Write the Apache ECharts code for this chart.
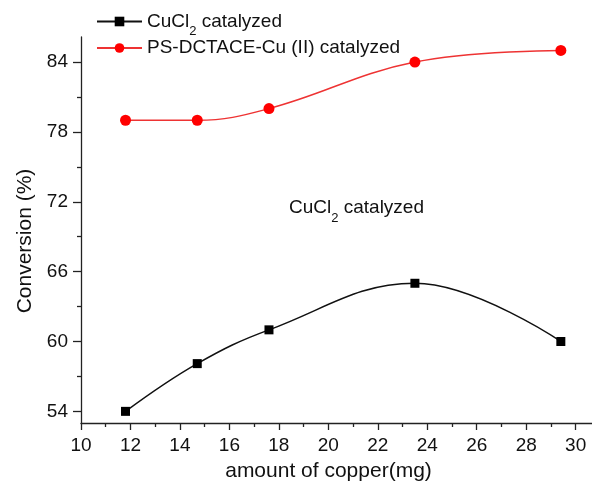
<!DOCTYPE html>
<html>
<head>
<meta charset="utf-8">
<script src="https://cdn.jsdelivr.net/npm/echarts@6/dist/echarts.min.js"></script>
<style>html,body{margin:0;padding:0;background:#fff}#c{width:592px;height:485px}</style>
</head>
<body>
<div id="c"></div>
<script>
var copperX = [11.8, 14.7, 17.6, 23.5, 29.4];
var cucl2Values = [54, 58.1, 61, 65, 60];
var psValues = [79, 79, 80, 84, 85];
var xMajorTicks = [10, 12, 14, 16, 18, 20, 22, 24, 26, 28, 30];
var xMinorTicks = [11, 13, 15, 17, 19, 21, 23, 25, 27, 29];
var yMajorTicks = [54, 60, 66, 72, 78, 84];
var yMinorTicks = [57, 63, 69, 75, 81];
var seriesNames = ['CuCl2 catalyzed', 'PS-DCTACE-Cu (II) catalyzed'];

var FONT = 'Liberation Sans, Arial, sans-serif';
function pairs(xs, ys) { return xs.map(function (x, i) { return [x, ys[i]]; }); }

var chart = echarts.init(document.getElementById('c'), null, { renderer: 'canvas' });
var grid = { left: 81, right: 0, top: 37, bottom: 62, containLabel: false, outerBoundsMode: 'none' };
var xr = { min: 10, max: 30.66 };
var yr = { min: 53, max: 86.15 };

chart.setOption({
  animation: false,
  backgroundColor: '#fff',
  grid: grid,
  legend: {
    left: 96, top: 12, orient: 'vertical', itemGap: 1, padding: 0,
    itemWidth: 45, itemHeight: 12,
    data: seriesNames,
    textStyle: {
      fontFamily: FONT, fontSize: 19, color: '#111',
      rich: {
        n: { fontFamily: FONT, fontSize: 19, color: '#111', lineHeight: 20 },
        s: { fontFamily: FONT, fontSize: 13, color: '#111', lineHeight: 20, verticalAlign: 'bottom', padding: [0, 0, -6, 0] }
      }
    },
    formatter: function (name) {
      if (name === seriesNames[0]) return '{n|CuCl}{s|2}{n| catalyzed}';
      return '{n|' + name + '}';
    }
  },
  xAxis: [{
    type: 'value', min: xr.min, max: xr.max, position: 'bottom',
    name: 'amount of copper(mg)', nameLocation: 'middle', nameGap: 38,
    nameTextStyle: { fontFamily: FONT, fontSize: 21, color: '#111', padding: [0, 16, 0, 0] },
    axisLine: { show: true, lineStyle: { color: '#222', width: 1.3 } },
    axisTick: { show: true, inside: false, length: 7, customValues: xMajorTicks, lineStyle: { color: '#222', width: 1.3 } },
    axisLabel: { show: true, margin: 13, customValues: xMajorTicks, fontFamily: FONT, fontSize: 19, color: '#111' },
    splitLine: { show: false }
  }, {
    type: 'value', min: xr.min, max: xr.max, position: 'bottom',
    axisLine: { show: false },
    axisTick: { show: true, inside: false, length: 4, customValues: xMinorTicks, lineStyle: { color: '#222', width: 1.3 } },
    axisLabel: { show: false }, splitLine: { show: false }
  }],
  yAxis: [{
    type: 'value', min: yr.min, max: yr.max, position: 'left',
    name: 'Conversion (%)', nameLocation: 'middle', nameGap: 45, nameRotate: 90,
    nameTextStyle: { fontFamily: FONT, fontSize: 21, color: '#111', padding: [0, 22, 0, 0] },
    axisLine: { show: true, lineStyle: { color: '#222', width: 1.3 } },
    axisTick: { show: true, inside: false, length: 8, customValues: yMajorTicks, lineStyle: { color: '#222', width: 1.3 } },
    axisLabel: { show: true, margin: 13, customValues: yMajorTicks, fontFamily: FONT, fontSize: 19, color: '#111' },
    splitLine: { show: false }
  }, {
    type: 'value', min: yr.min, max: yr.max, position: 'left',
    axisLine: { show: false },
    axisTick: { show: true, inside: false, length: 4, customValues: yMinorTicks, lineStyle: { color: '#222', width: 1.3 } },
    axisLabel: { show: false }, splitLine: { show: false }
  }],
  series: [{
    name: seriesNames[0], type: 'line', xAxisIndex: 0, yAxisIndex: 0,
    data: pairs(copperX, cucl2Values), smooth: 0.4,
    symbol: 'rect', symbolSize: 9,
    lineStyle: { color: '#111', width: 1.5 },
    itemStyle: { color: '#000' }
  }, {
    name: seriesNames[1], type: 'line', xAxisIndex: 0, yAxisIndex: 0,
    data: pairs(copperX, psValues), smooth: 0.4,
    symbol: 'circle', symbolSize: 11,
    lineStyle: { color: '#ee3333', width: 1.5 },
    itemStyle: { color: '#ff0000' }
  }],
  graphic: [{
    type: 'text', left: 289, top: 198,
    style: {
      text: '{n|CuCl}{s|2}{n| catalyzed}',
      font: '19px ' + FONT, fill: '#111',
      rich: {
        n: { fontFamily: FONT, fontSize: 19, fill: '#111', lineHeight: 22 },
        s: { fontFamily: FONT, fontSize: 13, fill: '#111', lineHeight: 22, verticalAlign: 'bottom', padding: [0, 0, -6, 0] }
      }
    }
  }]
});
</script>
</body>
</html>
